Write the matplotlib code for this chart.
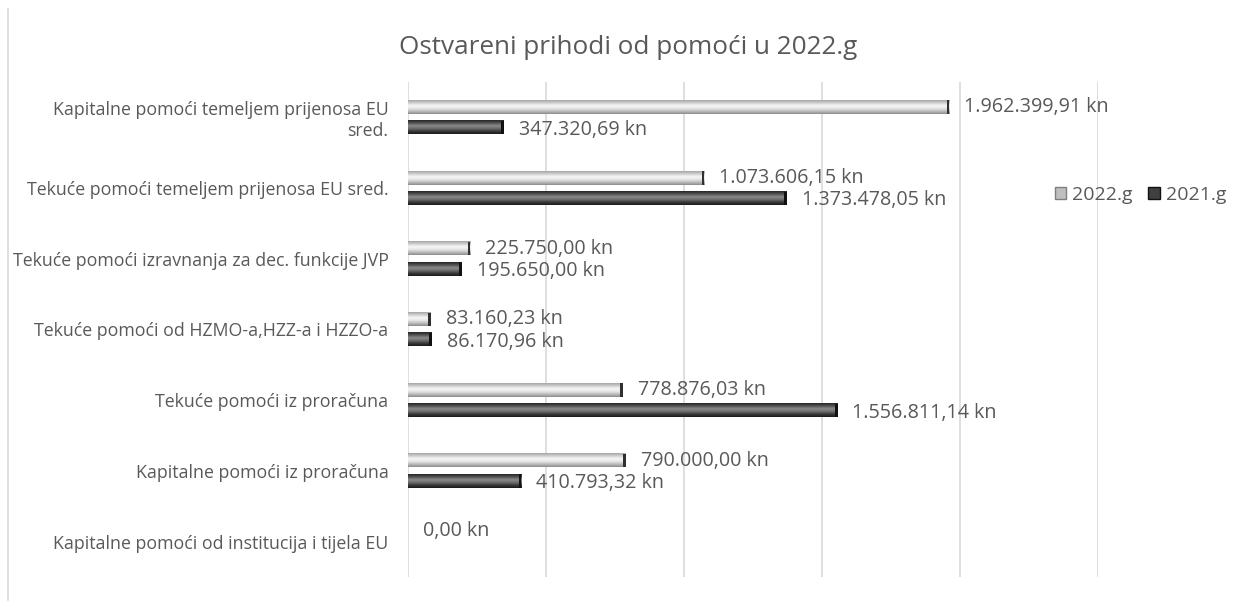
import numpy as np
import matplotlib.pyplot as plt
from matplotlib.colors import LinearSegmentedColormap
from matplotlib.patches import Patch

categories = [
    "Kapitalne pomoći temeljem prijenosa EU\nsred.",
    "Tekuće pomoći temeljem prijenosa EU sred.",
    "Tekuće pomoći izravnanja za dec. funkcije JVP",
    "Tekuće pomoći od HZMO-a,HZZ-a i HZZO-a",
    "Tekuće pomoći iz proračuna",
    "Kapitalne pomoći iz proračuna",
    "Kapitalne pomoći od institucija i tijela EU",
]
v2022 = [1962399.91, 1073606.15, 225750.00, 83160.23, 778876.03, 790000.00, 0.0]
v2021 = [347320.69, 1373478.05, 195650.00, 86170.96, 1556811.14, 410793.32, 0.0]
labels2022 = ["1.962.399,91 kn", "1.073.606,15 kn", "225.750,00 kn", "83.160,23 kn",
              "778.876,03 kn", "790.000,00 kn", "0,00 kn"]
labels2021 = ["347.320,69 kn", "1.373.478,05 kn", "195.650,00 kn", "86.170,96 kn",
              "1.556.811,14 kn", "410.793,32 kn", ""]

plt.rcParams['font.family'] = ['Open Sans', 'DejaVu Sans']
txt = '#595959'

cm_light = LinearSegmentedColormap.from_list('l', ['#8c8c8c', '#bdbdbd', '#e6e6e6', '#f7f7f7', '#d0d0d0', '#a6a6a6'])
cm_dark = LinearSegmentedColormap.from_list('d', ['#1a1a1a', '#3a3a3a', '#6e6e6e', '#8a8a8a', '#505050', '#262626'])
grad = np.linspace(0, 1, 64).reshape(-1, 1)

fig = plt.figure(figsize=(12.34, 6.09), dpi=100)
ax = fig.add_axes([0.3306, 0.0525, 0.559, 0.8129])

n = len(categories)
y = np.arange(n)[::-1]
h = 0.19
off = 0.145
cap = 9000

def draw(vals, ys, cmap, capc):
    for v, yy in zip(vals, ys):
        if v <= 0:
            continue
        ax.imshow(grad, cmap=cmap, aspect='auto', extent=(0, v, yy - h / 2, yy + h / 2),
                  origin='lower', zorder=3, interpolation='bilinear')
        ax.barh(yy, cap, left=v - cap, height=h, color=capc, zorder=4)

draw(v2022, y + off, cm_light, '#303030')
draw(v2021, y - off, cm_dark, '#111111')

for v, yy, s in zip(v2022, y + off, labels2022):
    ax.text(v + 54000, yy, s, va='center', ha='left', fontsize=14.2, color=txt, zorder=5)
for v, yy, s in zip(v2021, y - off, labels2021):
    ax.text(v + 54000, yy - 0.03, s, va='center', ha='left', fontsize=14.2, color=txt, zorder=5)

ax.set_xlim(0, 2500000)
ax.set_ylim(-0.5, n - 0.5)
ax.set_xticks(np.arange(0, 2500001, 500000))
ax.xaxis.grid(True, color='#d9d9d9', linewidth=1.2, zorder=0)
ax.tick_params(axis='x', labelbottom=False, length=0)
ax.set_yticks(y)
ax.set_yticklabels(categories, fontsize=12.8, color=txt, ha='right')
ax.tick_params(axis='y', length=0, pad=14)
for s in ax.spines.values():
    s.set_visible(False)
ax.set_axisbelow(True)

fig.text(0.509, 0.922, "Ostvareni prihodi od pomoći u 2022.g", ha='center', va='center',
         fontsize=18.8, color=txt)

handles = [Patch(facecolor='#bfbfbf', edgecolor='#7f7f7f', label='2022.g'),
           Patch(facecolor='#404040', edgecolor='#111111', label='2021.g')]
fig.legend(handles=handles, loc='center', bbox_to_anchor=(0.924, 0.68), ncol=2, frameon=False,
           fontsize=14, handlelength=0.6, handleheight=0.6, handletextpad=0.3, columnspacing=0.8,
           labelcolor=txt)

fig.add_artist(plt.Line2D([0.0065, 0.0065], [0.015, 0.985], color='#d9d9d9', linewidth=1.2))

fig.savefig('out.png', dpi=100)
